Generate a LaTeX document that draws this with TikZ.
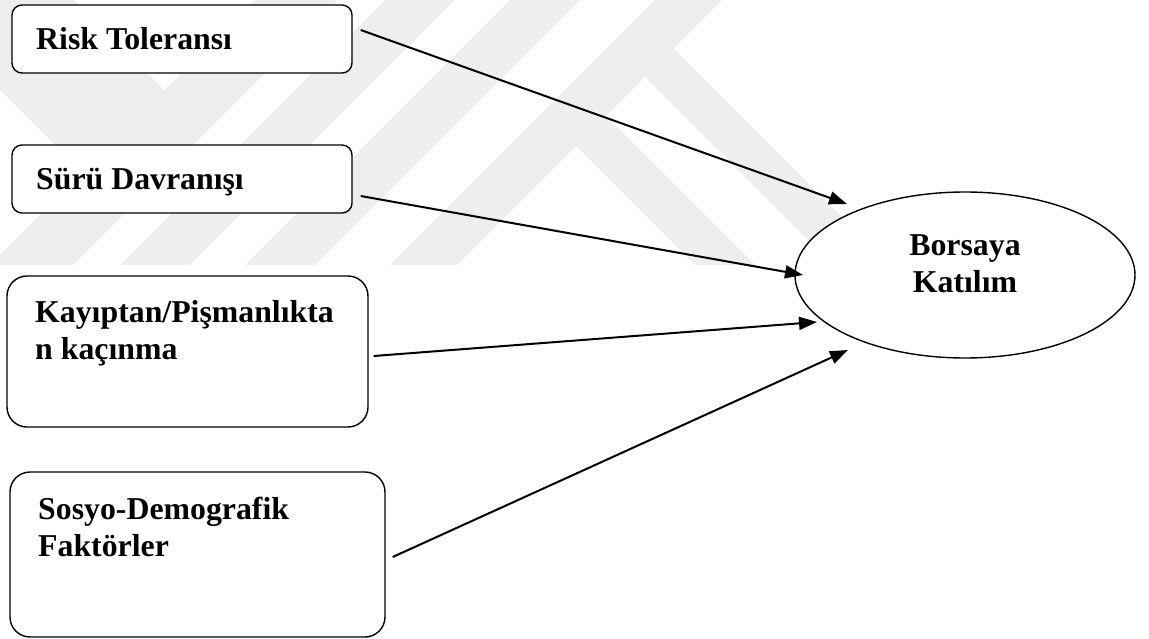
\documentclass[tikz,border=0pt]{standalone}
\usepackage{fontspec}
\setmainfont{Liberation Serif}
\usetikzlibrary{arrows.meta,shapes.geometric,calc}
\definecolor{wm}{RGB}{238,238,238}
\begin{document}
\begin{tikzpicture}[x=1pt,y=-1pt,
  box/.style={draw=black, line width=1.4pt, fill=white, rounded corners=10pt, inner sep=0pt},
  bigbox/.style={box, rounded corners=20pt},
  ell/.style={draw=black, line width=1.4pt, fill=white, ellipse, inner sep=0pt},
  lbl/.style={font=\fontsize{31.8}{36.5}\selectfont\bfseries, inner sep=0pt, align=left, anchor=base west},
  clbl/.style={font=\fontsize{31.8}{36.5}\selectfont\bfseries, inner sep=0pt, align=center, anchor=base},
  conn/.style={line width=2pt, -{Triangle[length=18pt,width=13pt]}},
  wmark/.style={fill=wm, draw=none}
]
\path[use as bounding box] (0,0) rectangle (1149,639);
% faint background watermark
\begin{scope}
\clip (0,0) rectangle (900,265);
\fill[wmark] (-90,0) -- (74,0) -- (187,113) -- (105,195) -- cycle;
\fill[wmark] (255,0) -- (338,0) -- (73,265) -- (-10,265) -- cycle;
\fill[wmark] (385,0) -- (455,0) -- (190,265) -- (120,265) -- cycle;
\fill[wmark] (510,0) -- (580,0) -- (315,265) -- (245,265) -- cycle;
\fill[wmark] (655,0) -- (722,0) -- (457,265) -- (390,265) -- cycle;
\fill[wmark] (670,45) -- (890,265) -- (833,265) -- (641.5,73.5) -- cycle;
\fill[wmark] (602.5,112.5) -- (755,265) -- (695,265) -- (572.5,142.5) -- cycle;
\end{scope}
% boxes
\node[box, minimum width=340pt, minimum height=68pt] (b1) at (182,39) {};
\node[box, minimum width=340pt, minimum height=68pt] (b2) at (182,179) {};
\node[bigbox, minimum width=361pt, minimum height=151pt] (b3) at (187.5,351.5) {};
\node[bigbox, minimum width=375pt, minimum height=165pt] (b4) at (197.5,554.5) {};
\node[ell, minimum width=340pt, minimum height=166pt] (el) at (965,275) {};
% labels (base anchor = baseline of the last line)
\node[lbl] (t1) at (36,50) {Risk Toleransı};
\node[lbl] (t2) at (36,190) {Sürü Davranışı};
\node[lbl] (t3) at (35,359) {Kayıptan/Pişmanlıkta\\n kaçınma};
\node[lbl] (t4) at (38,556) {Sosyo-Demografik\\Faktörler};
\node[clbl] (t5) at (965,292) {Borsaya\\Katılım};
% connectors
\draw[conn] ($(b1.east)+(8,-9)$) -- ($(el.center)+(-118,-71)$);
\draw[conn] ($(b2.east)+(8,17)$) -- ($(el.center)+(-162,0)$);
\draw[conn] ($(b3.east)+(5,4.5)$) -- ($(el.center)+(-148,47)$);
\draw[conn] ($(b4.east)+(7,2.5)$) -- ($(el.center)+(-117,75)$);
\end{tikzpicture}
\end{document}
